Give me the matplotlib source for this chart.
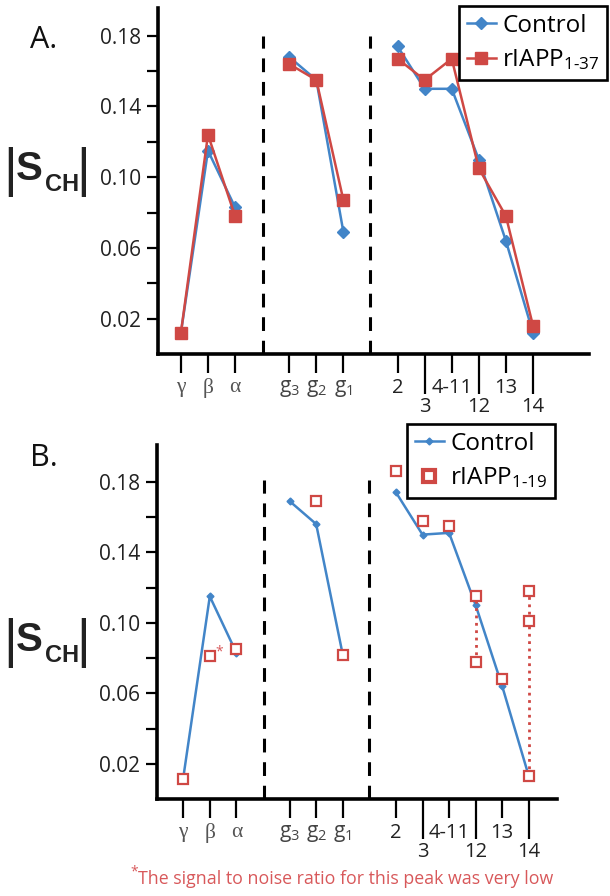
import numpy as np
import matplotlib
matplotlib.use("Agg")
import matplotlib.pyplot as plt
from matplotlib.lines import Line2D

plt.rcParams['font.family'] = ['Open Sans', 'DejaVu Sans']
plt.rcParams['mathtext.fontset'] = 'custom'
plt.rcParams['mathtext.rm'] = 'Open Sans'
plt.rcParams['mathtext.it'] = 'Open Sans:italic'
plt.rcParams['mathtext.bf'] = 'Open Sans:bold'

# positions along the chain, 4 and 8 are left empty for the dashed separators
pos = [1, 2, 3, 5, 6, 7, 9, 10, 11, 12, 13, 14]
tick_labels = ['γ', 'β', 'α', r'g$_3$', r'g$_2$', r'g$_1$', '2', '3', '4-11', '12', '13', '14']
long_ticks = ['3', '12', '14']
groups = [(0, 3), (3, 6), (6, 12)]
separators = [4.04, 8.0]

# panel A
ctrl_a = [0.012, 0.115, 0.083, 0.168, 0.155, 0.069, 0.174, 0.150, 0.150, 0.110, 0.064, 0.012]
r37_a = [0.012, 0.124, 0.078, 0.164, 0.155, 0.087, 0.167, 0.155, 0.167, 0.105, 0.078, 0.016]

# panel B
ctrl_b = [0.012, 0.115, 0.083, 0.169, 0.156, 0.082, 0.174, 0.150, 0.151, 0.110, 0.064, 0.013]
r19_b = [0.0115, 0.081, 0.085, np.nan, 0.169, 0.082, 0.186, 0.158, 0.155, 0.115, 0.068, 0.013]
# extra (split) rIAPP1-19 peaks
r19_split_pos = [12, 14, 14]
r19_split_val = [0.078, 0.118, 0.101]

BLUE = '#4285c8'
RED = '#cf4844'
NOTE_RED = '#d8585a'

W, H = 610, 896
fig = plt.figure(figsize=(W / 100, H / 100), dpi=100)


def fx(px):
    return px / W


def fy(py):
    return 1 - py / H


def setup_axis(ax, xlim, ylim):
    for s in ['top', 'right']:
        ax.spines[s].set_visible(False)
    for s in ['left', 'bottom']:
        ax.spines[s].set_linewidth(2.6)
    ax.set_xlim(*xlim)
    ax.set_ylim(*ylim)
    ax.set_yticks([0.02, 0.06, 0.10, 0.14, 0.18])
    ax.set_yticklabels(['%.2f' % v for v in [0.02, 0.06, 0.10, 0.14, 0.18]])
    ax.set_yticks([0.04, 0.08, 0.12, 0.16], minor=True)
    ax.tick_params(axis='y', which='both', direction='out', length=8, width=1.6,
                   pad=4, labelsize=15, labelcolor='#222222')
    short = [i for i, l in enumerate(tick_labels) if l not in long_ticks]
    longs = [i for i, l in enumerate(tick_labels) if l in long_ticks]
    ax.set_xticks([pos[i] for i in short], [tick_labels[i] for i in short])
    ax.set_xticks([pos[i] for i in longs], [tick_labels[i] for i in longs], minor=True)
    ax.tick_params(axis='x', which='major', direction='out', length=14, width=1.6, pad=3)
    ax.tick_params(axis='x', which='minor', direction='out', length=29, width=1.6, pad=2)
    for lab in ax.get_xticklabels() + ax.get_xticklabels(minor=True):
        t = lab.get_text()
        if t in ['γ', 'β', 'α']:
            lab.set_family('Liberation Serif')
            lab.set_fontsize(15.5)
            lab.set_color('#555555')
        elif t.startswith('g'):
            lab.set_fontsize(15)
            lab.set_color('#444444')
        else:
            lab.set_fontsize(14.5)
            lab.set_color('#222222')
    top = 0.18 if ylim[1] < 0.2 else 0.181
    for sx in separators:
        ax.plot([sx, sx], [0, top], color='black', lw=2.2, ls=(0, (4.5, 3.2)), zorder=1)


def sch_label(ybase):
    # |S_CH| drawn from pieces so the bars can be taller than the letters
    fig.text(fx(10), fy(ybase - 8), '|', fontsize=38, family='Liberation Sans',
             ha='center', va='center', color='#222222')
    fig.text(fx(16), fy(ybase), 'S', fontsize=29, family='Liberation Sans',
             weight='bold', ha='left', va='baseline', color='#222222')
    fig.text(fx(45), fy(ybase + 11), 'CH', fontsize=17, family='Liberation Sans',
             weight='bold', ha='left', va='baseline', color='#222222')
    fig.text(fx(83), fy(ybase - 8), '|', fontsize=38, family='Liberation Sans',
             ha='center', va='center', color='#222222')


def make_legend(ax, handles, labels, corner):
    leg = ax.legend(handles, labels, loc='upper right', bbox_to_anchor=corner,
                    bbox_transform=fig.transFigure, borderaxespad=0, fontsize=17.5,
                    fancybox=False, framealpha=1, edgecolor='black',
                    handlelength=1.2, handletextpad=0.25, labelspacing=0.4,
                    borderpad=0.32)
    leg.get_frame().set_linewidth(1.9)
    return leg


# ---------------- panel A ----------------
axA = fig.add_axes([fx(157.5), fy(354), fx(588.5 - 157.5), (354 - 8) / H])
setup_axis(axA, (0.136, 16.05), (0, 0.1957))
for a, b in groups:
    axA.plot(pos[a:b], ctrl_a[a:b], color=BLUE, lw=1.8, marker='D', ms=6.5, zorder=3)
    axA.plot(pos[a:b], r37_a[a:b], color=RED, lw=1.8, marker='s', ms=8.5, zorder=4)

make_legend(axA,
            [Line2D([], [], color=BLUE, lw=1.8, marker='D', ms=6.5),
             Line2D([], [], color=RED, lw=1.8, marker='s', ms=9)],
            ['Control', r'rIAPP$_{\text{1-37}}$'], (fx(607), fy(6)))

fig.text(fx(30), fy(40), 'A.', fontsize=22, ha='left', va='center', color='#111111')
sch_label(180)

# ---------------- panel B ----------------
axB = fig.add_axes([fx(157), fy(799.3), fx(556.5 - 157), (799.3 - 445) / H])
setup_axis(axB, (0.014, 15.04), (0, 0.2008))
for a, b in groups:
    axB.plot(pos[a:b], ctrl_b[a:b], color=BLUE, lw=1.8, marker='D', ms=3.5, zorder=3)

# dotted lines joining split peaks
all_x = list(pos) + r19_split_pos
all_y = list(r19_b) + r19_split_val
for sp in sorted(set(r19_split_pos)):
    vals = [v for x, v in zip(all_x, all_y) if x == sp and not np.isnan(v)]
    axB.plot([sp, sp], [min(vals), max(vals)], color=RED, lw=2, ls=':', zorder=4)

axB.plot(pos, r19_b, ls='none', marker='s', ms=7.5, mfc='white', mec=RED, mew=1.6, zorder=5)
axB.plot(r19_split_pos, r19_split_val, ls='none', marker='s', ms=7.5, mfc='white',
         mec=RED, mew=1.6, zorder=5)
axB.annotate('*', xy=(2, 0.081), xytext=(4, 1), textcoords='offset points',
             color=NOTE_RED, fontsize=10)

make_legend(axB,
            [Line2D([], [], color=BLUE, lw=1.8, marker='D', ms=3.5),
             Line2D([], [], ls='none', marker='s', ms=8, mfc='white', mec=RED, mew=3)],
            ['Control', r'rIAPP$_{\text{1-19}}$'], (fx(555), fy(424)))

fig.text(fx(30), fy(458), 'B.', fontsize=22, ha='left', va='center', color='#111111')
sch_label(651)

fig.text(fx(130), fy(872), '*', fontsize=10, color=NOTE_RED, ha='left', va='center')
fig.text(fx(138), fy(879), 'The signal to noise ratio for this peak was very low',
         fontsize=12.8, color=NOTE_RED, ha='left', va='center')

fig.savefig('out.png', dpi=100)
